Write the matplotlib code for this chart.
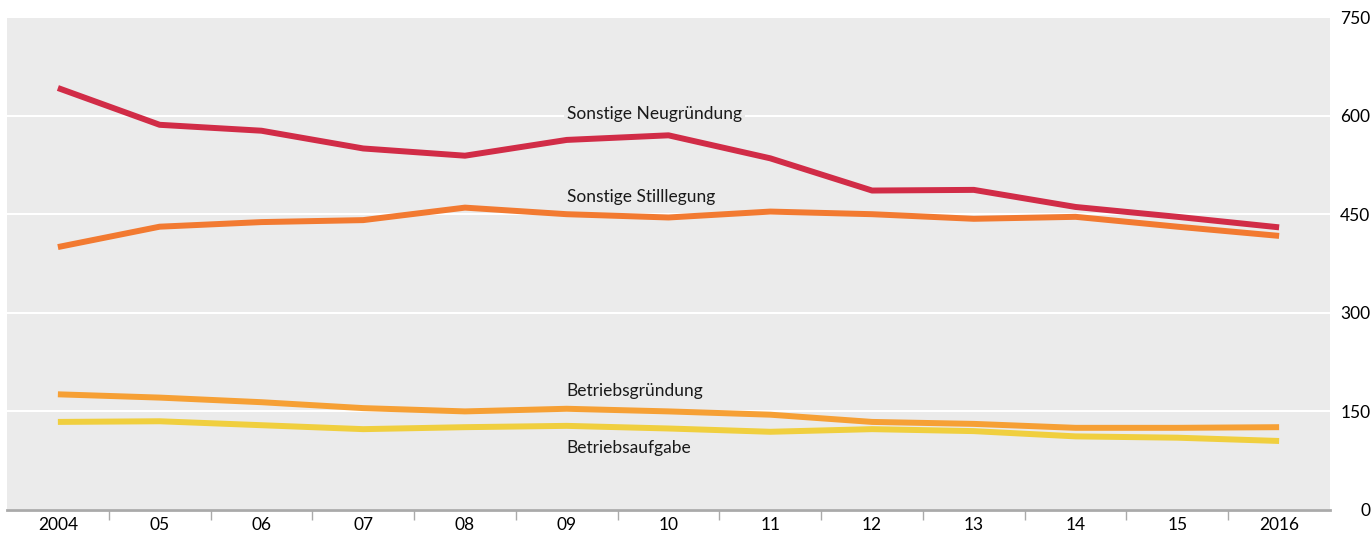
import matplotlib.pyplot as plt
import numpy as np

years = np.arange(2004, 2017)
year_labels = ["2004", "05", "06", "07", "08", "09", "10", "11", "12", "13", "14", "15", "2016"]

sonstige_neugruendung = [642, 586, 577, 550, 539, 563, 570, 535, 486, 487, 461, 446, 430]
sonstige_stilllegung = [400, 431, 438, 441, 460, 450, 445, 454, 450, 443, 446, 431, 417]
betriebsgruendung = [176, 171, 164, 155, 150, 154, 150, 145, 134, 131, 125, 125, 126]
betriebsaufgabe = [134, 135, 129, 123, 126, 128, 124, 119, 123, 120, 112, 110, 105]

plt.rcParams['font.family'] = ['Lato', 'DejaVu Sans']
bg = '#ebebeb'

fig = plt.figure(figsize=(13.72, 5.37), dpi=100)
ax = fig.add_axes([7/1372, 27/537, 1323/1372, 493/537])
ax.set_facecolor(bg)

lw = 4.3
ax.plot(years, sonstige_neugruendung, color='#d12c47', lw=lw, solid_capstyle='butt', zorder=3)
ax.plot(years, sonstige_stilllegung, color='#f27a31', lw=lw, solid_capstyle='butt', zorder=3)
ax.plot(years, betriebsgruendung, color='#f6a035', lw=lw, solid_capstyle='butt', zorder=3)
ax.plot(years, betriebsaufgabe, color='#f0cf3f', lw=lw, solid_capstyle='butt', zorder=2)

fs = 12.5
ax.text(2009, 602, "Sonstige Neugründung", fontsize=fs, va='center', ha='left', color='#1a1a1a',
        bbox=dict(facecolor=bg, edgecolor='none', pad=2), zorder=4)
ax.text(2009, 476, "Sonstige Stilllegung", fontsize=fs, va='center', ha='left', color='#1a1a1a', zorder=4)
ax.text(2009, 181, "Betriebsgründung", fontsize=fs, va='center', ha='left', color='#1a1a1a', zorder=4)
ax.text(2009, 95, "Betriebsaufgabe", fontsize=fs, va='center', ha='left', color='#1a1a1a', zorder=4)

ax.set_xlim(2003.5, 2016.5)
ax.set_ylim(0, 750)

ax.set_yticks([0, 150, 300, 450, 600, 750])
ax.yaxis.tick_right()
ax.tick_params(axis='y', length=0, pad=29, labelsize=fs)
for lab in ax.get_yticklabels():
    lab.set_horizontalalignment('right')
ax.grid(axis='y', color='white', lw=1.5, zorder=1)
ax.set_axisbelow(True)

ax.set_xticks(years)
ax.set_xticklabels(year_labels)
ax.set_xticks(np.arange(2004.5, 2016), minor=True)
ax.tick_params(axis='x', which='major', length=0, pad=5, labelsize=fs)
ax.tick_params(axis='x', which='minor', length=7, width=1, color='#aaaaaa')

for s in ['top', 'left', 'right']:
    ax.spines[s].set_visible(False)
ax.spines['bottom'].set_color('#aaaaaa')
ax.spines['bottom'].set_linewidth(2)

fig.savefig('out.png', dpi=100)
